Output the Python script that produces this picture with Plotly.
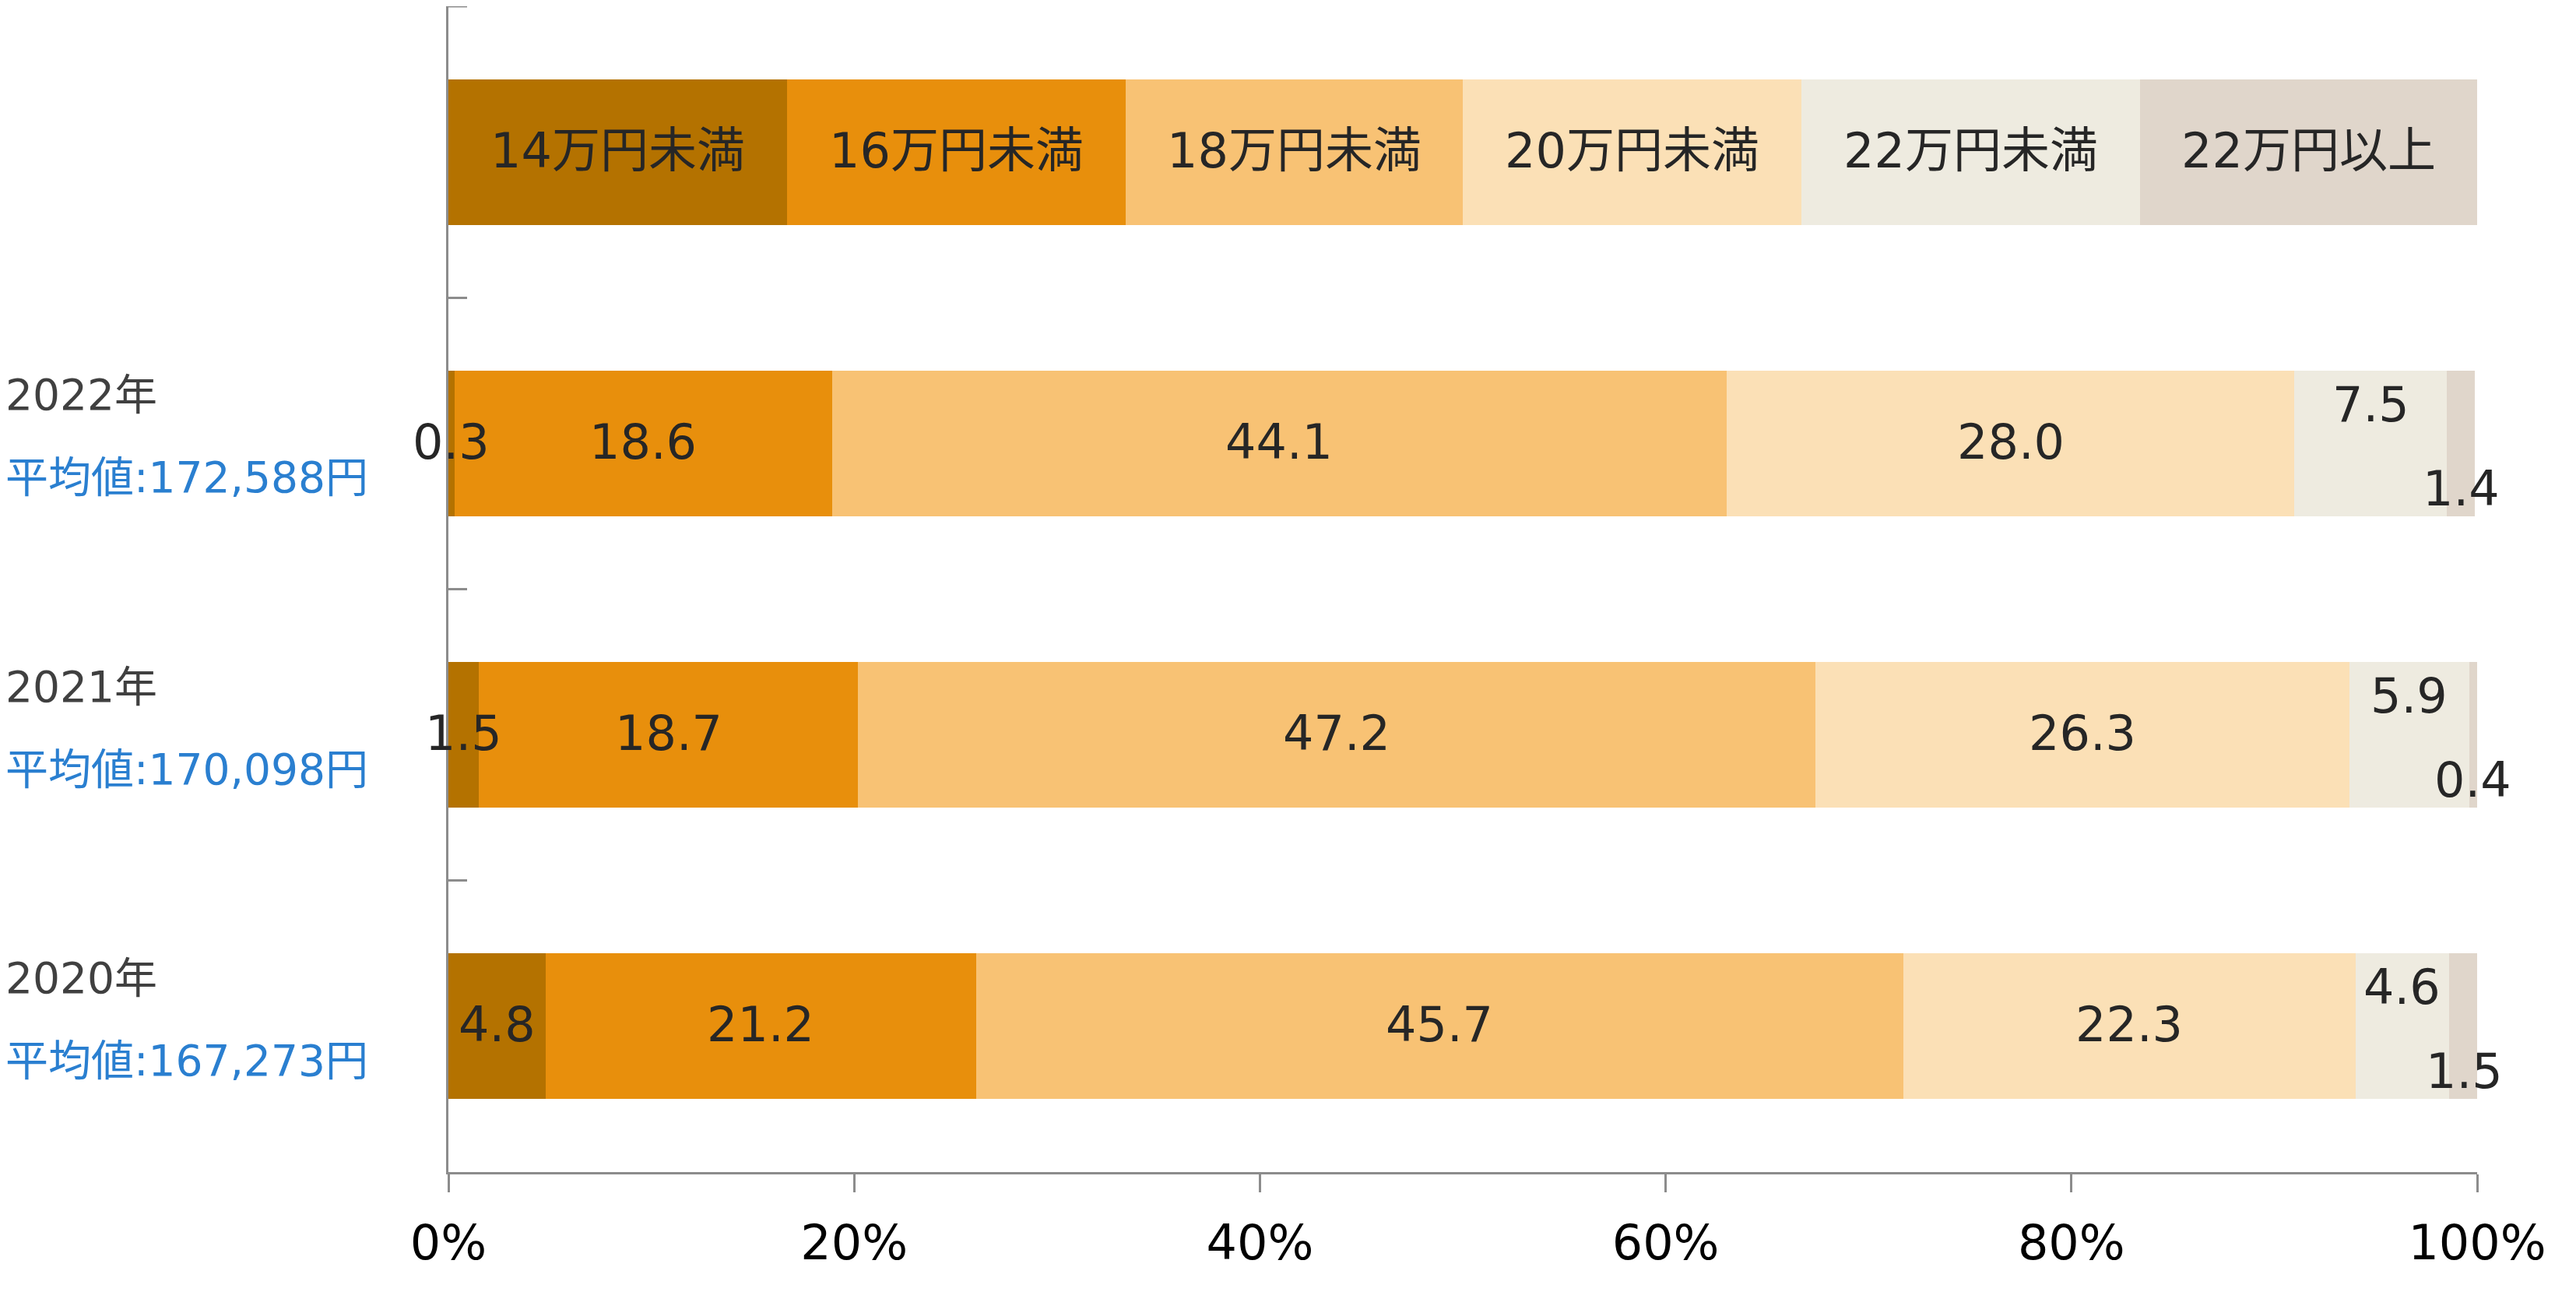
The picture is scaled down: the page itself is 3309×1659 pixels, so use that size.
"""
Monthly starting-salary distribution, 2020-2022 (100% stacked bars).
"""
import plotly.graph_objects as go

FONT = "DejaVu Sans, Noto Sans CJK JP"
TEXT = "#262626"
AXIS = "#8c8c8c"
BLUE = "#2a7fd0"

# salary bands, left to right
BANDS = ["14万円未満", "16万円未満", "18万円未満", "20万円未満", "22万円未満", "22万円以上"]
BAND_COLORS = ["#b47200", "#e88f0c", "#f8c274", "#fbe0b6", "#eeebe0", "#e0d6cb"]

# rows, top to bottom (first row is the colour key)
ROWS = ["key", "y2022", "y2021", "y2020"]
YEAR_LABELS = ["2022年", "2021年", "2020年"]
AVG_LABELS = ["平均値:172,588円", "平均値:170,098円", "平均値:167,273円"]

KEY_ROW = [16.7, 16.7, 16.6, 16.7, 16.7, 16.6]
SHARE_2022 = [0.3, 18.6, 44.1, 28.0, 7.5, 1.4]
SHARE_2021 = [1.5, 18.7, 47.2, 26.3, 5.9, 0.4]
SHARE_2020 = [4.8, 21.2, 45.7, 22.3, 4.6, 1.5]

X_TICKS = [0, 20, 40, 60, 80, 100]
X_TICK_TEXT = ["0%", "20%", "40%", "60%", "80%", "100%"]

year_rows = {"y2022": SHARE_2022, "y2021": SHARE_2021, "y2020": SHARE_2020}

fig = go.Figure()
for i, band in enumerate(BANDS):
    xs = [KEY_ROW[i]] + [year_rows[r][i] for r in ROWS[1:]]
    fig.add_trace(go.Bar(
        name=band, y=ROWS, x=xs, orientation="h",
        marker=dict(color=BAND_COLORS[i], line=dict(width=0)),
        hoverinfo="skip",
    ))

# band names written inside the key row
left = 0.0
for i, band in enumerate(BANDS):
    fig.add_annotation(
        x=left + KEY_ROW[i] / 2, y="key", text=band, showarrow=False, yshift=2,
        font=dict(family=FONT, size=62, color=TEXT),
    )
    left += KEY_ROW[i]

# value labels; the two narrow right-hand segments are staggered up/down
for row in ROWS[1:]:
    vals = year_rows[row]
    left = 0.0
    for i, v in enumerate(vals):
        shift = 2
        if i == 4:
            shift = 50
        elif i == 5:
            shift = -58
        fig.add_annotation(
            x=left + v / 2, y=row, text=f"{v:.1f}", showarrow=False, yshift=shift,
            font=dict(family=FONT, size=62, color=TEXT),
        )
        left += v

# year + average labels at the far left
for row, yl, al in zip(ROWS[1:], YEAR_LABELS, AVG_LABELS):
    fig.add_annotation(
        xref="paper", x=0, xshift=-571, xanchor="left", y=row, yshift=62,
        text=yl, showarrow=False, font=dict(family=FONT, size=55, color="#404040"),
    )
    fig.add_annotation(
        xref="paper", x=0, xshift=-571, xanchor="left", y=row, yshift=-44,
        text=al, showarrow=False, font=dict(family=FONT, size=55, color=BLUE),
    )

# tick closing the top of the category axis
fig.add_shape(
    type="line", xref="paper", yref="paper", xsizemode="pixel", xanchor=0,
    x0=0, x1=24, y0=1, y1=1, line=dict(color=AXIS, width=3),
)

fig.update_layout(
    width=3309, height=1659,
    barmode="stack", bargap=0.5,
    showlegend=False,
    paper_bgcolor="white", plot_bgcolor="white",
    font=dict(family=FONT, color="#000000"),
    margin=dict(l=568, r=135, t=0, b=162),
    xaxis=dict(
        type="linear", range=[0, 100], tickvals=X_TICKS, ticktext=X_TICK_TEXT,
        showgrid=False, zeroline=False,
        showline=True, linecolor=AXIS, linewidth=3,
        ticks="outside", ticklen=23, tickwidth=3, tickcolor=AXIS,
        tickfont=dict(family=FONT, size=62, color="#000000"),
        ticklabelstandoff=12,
    ),
    yaxis=dict(
        type="category", categoryorder="array", categoryarray=ROWS, autorange="reversed",
        showticklabels=False, showgrid=False, zeroline=False,
        showline=True, linecolor=AXIS, linewidth=3,
        tickson="boundaries", ticks="inside", ticklen=24, tickwidth=3, tickcolor=AXIS,
    ),
)

fig.write_html("out.html")
